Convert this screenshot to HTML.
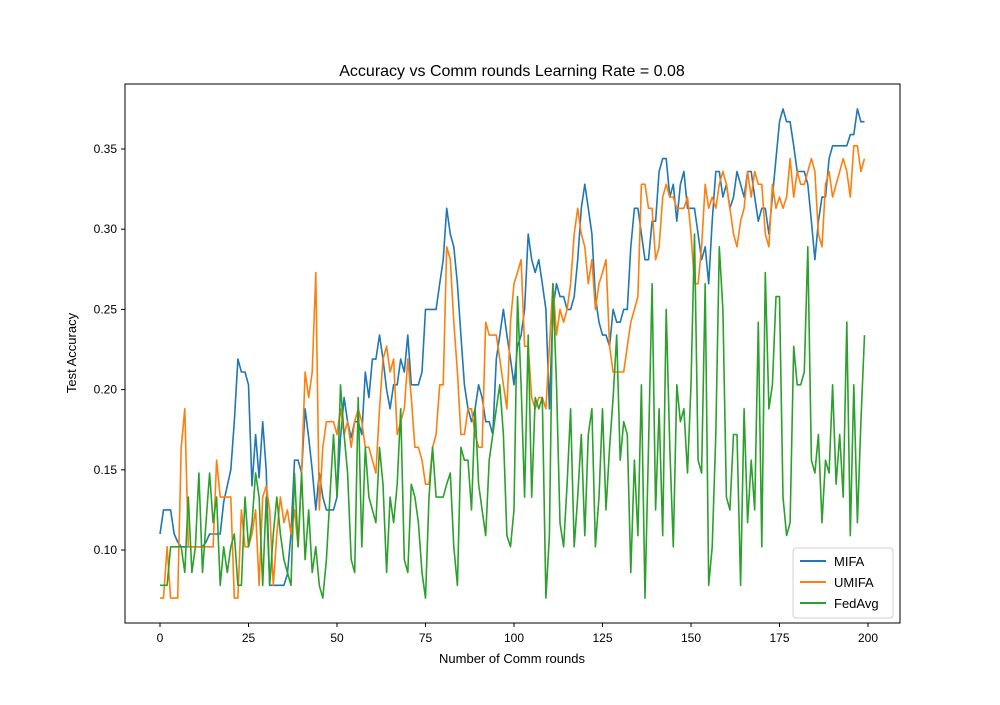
<!DOCTYPE html>
<html><head><meta charset="utf-8"><style>
body{margin:0;background:#fff}
svg{font-family:"Liberation Sans",sans-serif}
</style></head><body>
<svg id="chart" width="1000" height="700" xmlns="http://www.w3.org/2000/svg">
<rect width="1000" height="700" fill="#fff"/>
<text x="512" y="76" font-size="16" text-anchor="middle">Accuracy vs Comm rounds Learning Rate = 0.08</text>
<text x="512" y="663" font-size="13" text-anchor="middle">Number of Comm rounds</text>
<text x="76" y="353" font-size="13" text-anchor="middle" transform="rotate(-90 76 353)">Test Accuracy</text>
<g id="ticks"></g>
<g id="series"></g>
<rect x="125" y="84" width="775" height="539" fill="none" stroke="#000" stroke-width="1"/>
<g>
<rect x="793" y="548" width="100" height="70" rx="3" fill="#fff" stroke="#ccc" opacity="0.9"/>
<line x1="800" y1="561" x2="826" y2="561" stroke="#1f77b4" stroke-width="2"/>
<text x="834" y="566" font-size="13">MIFA</text>
<line x1="800" y1="582" x2="826" y2="582" stroke="#ff7f0e" stroke-width="2"/>
<text x="834" y="587" font-size="13">UMIFA</text>
<line x1="800" y1="603" x2="826" y2="603" stroke="#2ca02c" stroke-width="2"/>
<text x="834" y="608" font-size="13">FedAvg</text>
</g>
</svg>
<script>
const xTicks=[0,25,50,75,100,125,150,175,200];
const yTicks=[0.10,0.15,0.20,0.25,0.30,0.35];
const yTickLabels=["0.10","0.15","0.20","0.25","0.30","0.35"];
const mifa=[.11,.125,.125,.125,.11,.105,.102,.102,.102,.102,
.102,.102,.102,.105,.11,.11,.11,.11,.13,.14,
.15,.18,.219,.211,.211,.203,.14,.172,.145,.18,
.15,.078,.078,.078,.078,.078,.085,.11,.156,.156,
.148,.188,.17,.15,.125,.148,.133,.125,.125,.125,
.133,.17,.195,.18,.17,.18,.18,.172,.211,.195,
.219,.219,.234,.219,.2,.188,.203,.203,.219,.211,
.234,.203,.203,.203,.211,.25,.25,.25,.25,.266,
.281,.313,.297,.289,.266,.234,.203,.188,.18,.188,
.203,.195,.18,.18,.172,.219,.234,.25,.234,.219,
.203,.227,.234,.25,.297,.281,.273,.281,.266,.25,
.188,.25,.266,.258,.258,.25,.25,.258,.281,.313,
.328,.313,.297,.258,.242,.234,.234,.227,.25,.242,
.242,.25,.25,.289,.313,.313,.297,.281,.281,.305,
.305,.336,.344,.344,.32,.328,.305,.328,.336,.313,
.313,.313,.297,.281,.289,.266,.305,.336,.336,.32,
.328,.313,.32,.336,.328,.32,.336,.336,.32,.305,
.313,.313,.297,.32,.344,.367,.375,.367,.367,.352,
.336,.336,.336,.328,.305,.281,.305,.32,.32,.344,
.352,.352,.352,.352,.352,.359,.359,.375,.367,.367];
const umifa=[.07,.07,.102,.07,.07,.07,.164,.188,.102,.102,
.102,.102,.102,.102,.102,.102,.156,.133,.133,.133,
.133,.07,.07,.125,.102,.102,.11,.125,.078,.133,
.14,.125,.078,.11,.133,.117,.125,.11,.125,.102,
.148,.211,.195,.211,.273,.125,.164,.18,.18,.18,
.172,.188,.172,.18,.164,.18,.188,.18,.164,.164,
.156,.148,.188,.219,.227,.211,.219,.172,.18,.188,
.219,.195,.164,.164,.156,.141,.141,.164,.172,.203,
.203,.289,.281,.242,.211,.172,.172,.188,.188,.172,
.164,.164,.242,.234,.234,.234,.219,.203,.188,.242,
.266,.273,.281,.227,.227,.195,.188,.195,.195,.188,
.227,.266,.234,.25,.242,.25,.266,.297,.313,.297,
.289,.266,.281,.25,.266,.273,.281,.227,.211,.211,
.211,.211,.227,.242,.25,.258,.328,.328,.313,.313,
.281,.289,.32,.328,.32,.32,.313,.313,.313,.32,
.297,.266,.266,.289,.328,.313,.32,.313,.328,.336,
.328,.313,.297,.289,.305,.313,.336,.32,.336,.328,
.328,.297,.289,.328,.313,.32,.313,.32,.344,.32,
.336,.328,.328,.336,.344,.336,.297,.289,.328,.336,
.32,.328,.336,.344,.336,.32,.352,.352,.336,.344];
const fedavg=[.078,.078,.078,.102,.102,.102,.102,.086,.133,.086,
.102,.148,.086,.117,.148,.117,.133,.078,.102,.086,
.102,.11,.078,.078,.133,.102,.117,.148,.133,.078,
.133,.078,.11,.133,.11,.094,.086,.078,.148,.102,
.148,.094,.125,.086,.102,.078,.07,.094,.133,.172,
.133,.203,.172,.148,.094,.086,.195,.102,.164,.133,
.125,.117,.164,.141,.086,.133,.117,.141,.188,.094,
.086,.141,.133,.117,.086,.07,.133,.164,.133,.133,
.133,.141,.148,.102,.078,.164,.156,.156,.125,.188,
.141,.125,.109,.156,.172,.188,.203,.172,.109,.102,
.125,.258,.203,.133,.234,.133,.195,.188,.195,.07,
.109,.266,.203,.117,.102,.141,.188,.102,.133,.172,
.109,.172,.188,.102,.133,.188,.125,.164,.195,.234,
.156,.18,.172,.086,.156,.109,.203,.07,.164,.266,
.125,.188,.109,.25,.164,.102,.203,.18,.188,.148,
.203,.297,.156,.148,.266,.078,.102,.172,.289,.25,
.133,.125,.172,.172,.078,.188,.117,.156,.125,.242,
.102,.273,.188,.203,.258,.258,.133,.109,.117,.227,
.203,.203,.211,.289,.156,.148,.172,.117,.156,.148,
.203,.141,.172,.133,.242,.109,.203,.117,.18,.234];
const NS="http://www.w3.org/2000/svg";
const X=i=>160+i*(708/200);
const Y=v=>550-(v-0.10)*1604;
const tg=document.getElementById('ticks');
xTicks.forEach(t=>{
 const l=document.createElementNS(NS,'line');
 
 
 l.setAttribute('x1',X(t));l.setAttribute('x2',X(t));l.setAttribute('y1',623);l.setAttribute('y2',627);l.setAttribute('stroke','#000');
 tg.appendChild(l);
 const tx=document.createElementNS(NS,'text');
 
 
 tx.setAttribute('x',X(t));tx.setAttribute('y',642);tx.setAttribute('font-size','12');tx.setAttribute('text-anchor','middle');
 tx.textContent=t;tg.appendChild(tx);
});
yTicks.forEach((t,k)=>{
 const l=document.createElementNS(NS,'line');
 
 
 l.setAttribute('x1',121);l.setAttribute('x2',125);l.setAttribute('y1',Y(t));l.setAttribute('y2',Y(t));l.setAttribute('stroke','#000');
 tg.appendChild(l);
 const tx=document.createElementNS(NS,'text');
 
 
 tx.setAttribute('x',117);tx.setAttribute('y',Y(t)+4);tx.setAttribute('font-size','12');tx.setAttribute('text-anchor','end');
 tx.textContent=yTickLabels[k];tg.appendChild(tx);
});
const sg=document.getElementById('series');
[[mifa,'#1f77b4','mifa-line'],[umifa,'#ff7f0e','umifa-line'],[fedavg,'#2ca02c','fedavg-line']].forEach(([d,c,n])=>{
 const p=document.createElementNS(NS,'polyline');
 
 
 p.setAttribute('points',d.map((v,i)=>X(i).toFixed(1)+','+Y(v).toFixed(1)).join(' '));
 p.setAttribute('fill','none');p.setAttribute('stroke',c);p.setAttribute('stroke-width','1.6');p.setAttribute('stroke-linejoin','round');
 sg.appendChild(p);
});
</script>
</body></html>
